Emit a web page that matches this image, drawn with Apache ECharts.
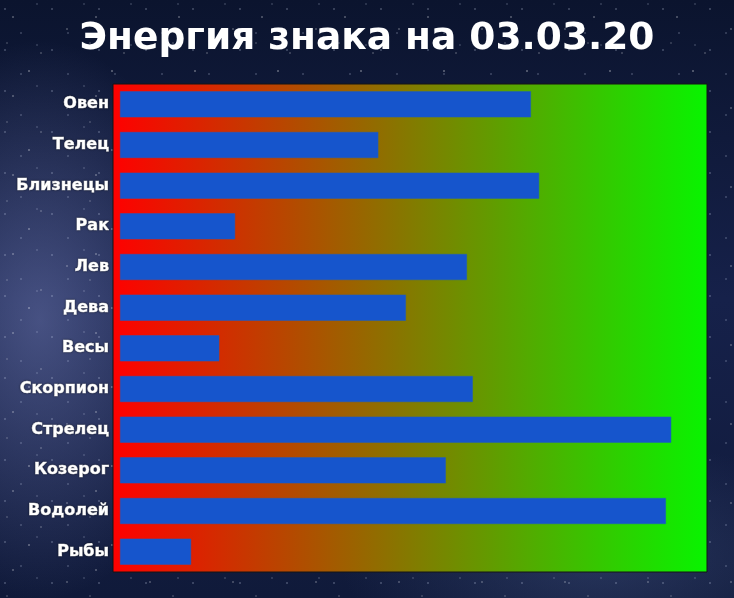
<!DOCTYPE html>
<html>
<head>
<meta charset="utf-8">
<script src="https://cdn.jsdelivr.net/npm/echarts@6/dist/echarts.min.js"></script>
<style>
  html, body { margin: 0; padding: 0; }
  body {
    width: 734px; height: 598px; overflow: hidden;
    background-color: #111c3c;
    background-image:
      radial-gradient(1px 1px at 13px 17px, rgba(255,255,255,0.8), transparent),
      radial-gradient(1px 1px at 41px 53px, rgba(255,255,255,0.6), transparent),
      radial-gradient(1px 1px at 67px 29px, rgba(255,255,255,0.7), transparent),
      radial-gradient(1.5px 1.5px at 29px 71px, rgba(255,255,255,0.5), transparent),
      radial-gradient(1px 1px at 7px 43px, rgba(255,255,255,0.5), transparent),
      radial-gradient(1px 1px at 5px 9px, rgba(220,230,255,0.7), transparent),
      radial-gradient(1px 1px at 21px 33px, rgba(220,230,255,0.6), transparent),
      radial-gradient(1px 1px at 37px 4px, rgba(220,230,255,0.5), transparent),
      radial-gradient(ellipse 170px 280px at 40px 320px, rgba(130,140,200,0.45), transparent),
      radial-gradient(ellipse 260px 120px at 600px 560px, rgba(80,100,150,0.35), transparent),
      linear-gradient(180deg, #0b142e 0%, #16214a 50%, #101a3a 100%);
    background-size: 83px 79px, 83px 79px, 83px 79px, 83px 79px, 83px 79px,
      47px 41px, 47px 41px, 47px 41px, 100% 100%, 100% 100%, 100% 100%;
  }
  #chart { width: 734px; height: 598px; }
</style>
</head>
<body>
<div id="chart"></div>
<script>
// знаки зодиака, сверху вниз
var signs = ['Овен', 'Телец', 'Близнецы', 'Рак', 'Лев', 'Дева', 'Весы',
             'Скорпион', 'Стрелец', 'Козерог', 'Водолей', 'Рыбы'];
// энергия знака, 0..100
var energy = [70, 44, 71.4, 19.6, 59.1, 48.7, 16.9, 60.1, 93.9, 55.5, 93, 12.1];

var myChart = echarts.init(document.getElementById('chart'), null, { renderer: 'canvas' });

var option = {
    backgroundColor: 'transparent',
    title: {
        text: 'Энергия знака на 03.03.20',
        left: 'center',
        top: 15,
        textStyle: {
            color: '#ffffff',
            fontFamily: 'DejaVu Sans',
            fontWeight: 'bold',
            fontSize: 37.5
        }
    },
    grid: {
        left: 113,
        top: 84,
        width: 594,
        height: 488,
        show: true,
        borderColor: '#141414',
        borderWidth: 1,
        backgroundColor: {
            type: 'linear', x: 0, y: 0, x2: 1, y2: 0,
            colorStops: [
                { offset: 0, color: '#ff0000' },
                { offset: 1, color: '#08f400' }
            ]
        }
    },
    xAxis: {
        type: 'value',
        min: -1.2,
        max: 100,
        show: false,
        splitLine: { show: false }
    },
    yAxis: {
        type: 'category',
        inverse: true,
        data: signs,
        axisLine: { show: false },
        axisTick: { show: false },
        axisLabel: {
            margin: 4,
            color: '#ffffff',
            fontFamily: 'DejaVu Sans',
            fontWeight: 'bold',
            fontSize: 16,
            textBorderColor: 'rgba(255,255,255,0.9)',
            textBorderWidth: 0.6,
            textShadowColor: 'rgba(0,0,0,0.6)',
            textShadowBlur: 2
        }
    },
    series: [{
        type: 'bar',
        data: energy,
        barWidth: 26,
        itemStyle: {
            color: '#1655cc',
            borderColor: '#1f5fc0',
            borderWidth: 0.5
        },
        silent: true
    }]
};

myChart.setOption(option);
</script>
</body>
</html>
